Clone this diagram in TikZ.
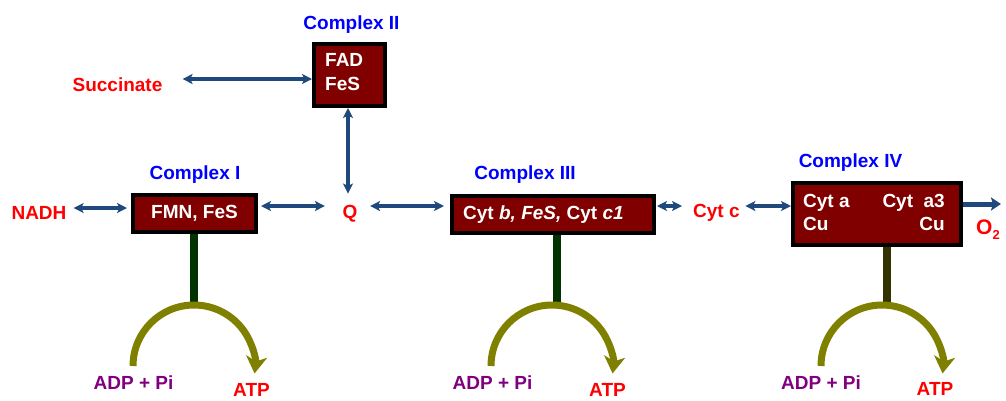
\documentclass[tikz,border=0pt]{standalone}
\usepackage{fontspec}
\setmainfont{Liberation Sans}
\usetikzlibrary{arrows.meta}
\definecolor{navy}{RGB}{31,73,125}
\definecolor{boxred}{RGB}{128,0,0}
\definecolor{lblue}{RGB}{0,0,255}
\definecolor{lred}{RGB}{255,0,0}
\definecolor{lpurple}{RGB}{128,0,128}
\definecolor{olivearc}{RGB}{128,128,0}
\definecolor{stemgreen}{RGB}{0,51,0}
\definecolor{stemolive}{RGB}{51,51,0}
\begin{document}
\begin{tikzpicture}[x=1pt,y=1pt,
  txt/.style={font=\bfseries\fontsize{19}{23}\selectfont, inner sep=0pt, anchor=base},
  cname/.style={txt, text=lblue},
  chem/.style={txt, text=lred},
  adp/.style={txt, text=lpurple},
  intext/.style={txt, text=white},
  cbox/.style={draw=black, line width=4pt, fill=boxred, inner sep=0pt},
  link/.style={draw=navy, line width=3.5pt, {Stealth[length=10pt,width=10pt,inset=2.5pt]}-{Stealth[length=10pt,width=10pt,inset=2.5pt]}},
  o2arrow/.style={draw=navy, line width=5pt, -{Stealth[length=10pt,width=13pt,inset=2pt]}},
  stemline/.style={line width=8pt},
  atparc/.style={draw=olivearc, line width=7pt, -{Stealth[length=17pt,width=21pt,inset=5pt]}},
]
\useasboundingbox (0,0) rectangle (1006,-400);
\fill[white] (0,0) rectangle (1006,-400);

% boxes
\node[cbox, minimum width=71pt, minimum height=62pt] (c2) at (349.5,-75) {};
\node[cbox, minimum width=123pt, minimum height=37pt] (c1) at (194.5,-213.5) {};
\node[cbox, minimum width=202pt, minimum height=37pt] (c3) at (553,-214.5) {};
\node[cbox, minimum width=168pt, minimum height=62pt] (c4) at (877,-214) {};

% complex names
\node[cname] (l2) at (351.5,-29) {Complex II};
\node[cname] (l1) at (195,-179) {Complex I};
\node[cname] (l3) at (525,-179) {Complex III};
\node[cname] (l4) at (850.5,-167) {Complex IV};

% substrates
\node[chem] (succ) at (117.5,-91.5) {Succinate};
\node[chem] (nadh) at (39,-219) {NADH};
\node[chem] (q) at (350,-218) {Q};
\node[chem, anchor=base west] (cytc) at (693,-217) {Cyt c};
\node[chem, anchor=base west, font=\bfseries\fontsize{21}{23}\selectfont] (o2) at (976,-234) {O\raisebox{-5pt}{\fontsize{13}{13}\selectfont 2}};

% texts inside boxes
\node[intext, anchor=base west] (fad) at (325,-66) {FAD};
\node[intext, anchor=base west] (fes2) at (325,-90) {FeS};
\node[intext] (fmn) at (194.5,-218.5) {FMN, FeS};
\node[intext, anchor=base west] (cytb) at (463,-219) {Cyt \textit{b, FeS,} Cyt \textit{c1}};
\node[intext, anchor=base west] (cyta) at (803,-207) {Cyt a};
\node[intext, anchor=base west] (cu1) at (803,-230.5) {Cu};
\node[intext, anchor=base east] (cyta3) at (945,-207) {Cyt\ \ a3};
\node[intext, anchor=base east] (cu2) at (945,-230.5) {Cu};

% electron-transfer links
\draw[link, shorten <=7pt, shorten >=4pt] (nadh.east |- 0,-208) -- (c1.west |- 0,-208);
\draw[link, shorten <=3pt, shorten >=17.5pt] (c1.east |- 0,-206) -- (q.west |- 0,-206);
\draw[link, shorten <=12.5pt, shorten >=6pt] (q.east |- 0,-206) -- (c3.west |- 0,-206);
\draw[link, shorten <=1pt, shorten >=11pt] (c3.east |- 0,-206) -- (cytc.west |- 0,-206);
\draw[link, shorten <=5.5pt] (cytc.east |- 0,-206) -- (c4.west |- 0,-206);
\draw[link, shorten <=20pt] (succ.east |- 0,-79) -- (c2.west |- 0,-79);
\draw[link, shorten >=11pt] (c2.south -| 348,0) -- (q.north -| 348,0);
\coordinate (o2end) at (1001,-204);
\draw[o2arrow] (c4.east |- o2end) -- (o2end);

% stems
\coordinate (t1) at (194,-305);
\coordinate (t3) at (557,-305);
\coordinate (t4) at (887,-305);
\draw[stemline, stemgreen] (c1.south -| t1) -- (t1);
\draw[stemline, stemgreen] (c3.south -| t3) -- (t3);
\draw[stemline, stemolive] (c4.south -| t4) -- (t4);

% ATP synthesis arcs
\coordinate (a1) at (133,-366);
\coordinate (a3) at (491,-366);
\coordinate (a4) at (821,-366);
\draw[atparc] (a1) arc[start angle=180, end angle=-7, radius=61];
\draw[atparc] (a3) arc[start angle=180, end angle=-7, radius=61];
\draw[atparc] (a4) arc[start angle=180, end angle=-7, radius=61];

\node[adp] (adp1) at (133.5,-389) {ADP + Pi};
\node[adp] (adp3) at (492.5,-389) {ADP + Pi};
\node[adp] (adp4) at (821,-389) {ADP + Pi};
\node[chem] (atp1) at (251.5,-396) {ATP};
\node[chem] (atp3) at (607.5,-396) {ATP};
\node[chem] (atp4) at (935,-395) {ATP};
\end{tikzpicture}
\end{document}
